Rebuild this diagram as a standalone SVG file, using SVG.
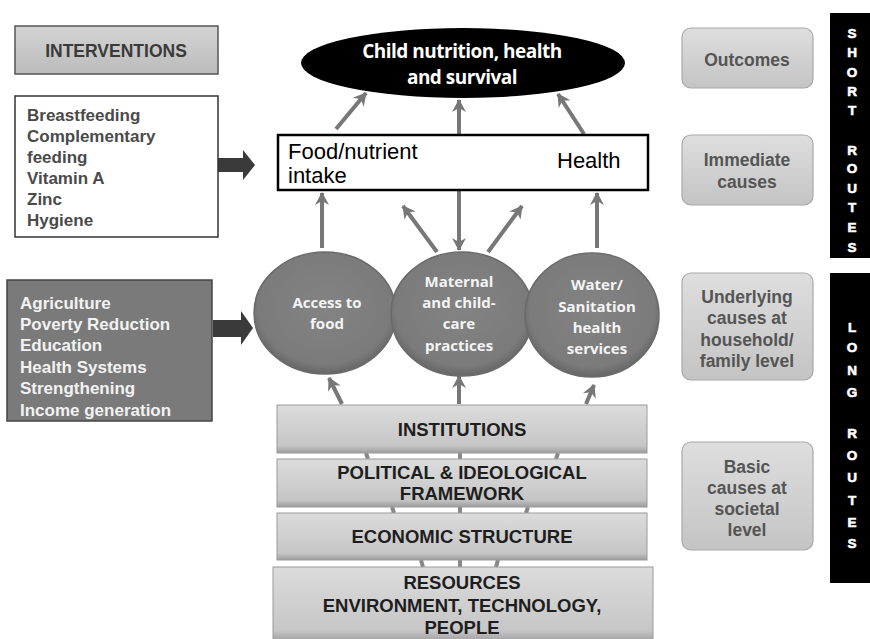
<svg xmlns="http://www.w3.org/2000/svg" width="870" height="639" viewBox="0 0 870 639">
<defs>
<style>
.b{font-family:"Liberation Sans",Arial,sans-serif;font-weight:bold}
.lst{font-size:17px;fill:#4a4a4a}
.lstw{font-size:17px;fill:#f2f2f2}
.rt{font-size:17.5px;fill:#555;text-anchor:middle}
.bar{fill:url(#barg);stroke:#9a9a9a;stroke-width:1}
.bt{font-size:18.5px;fill:#1e1e1e;text-anchor:middle}
.circ{fill:url(#cg);stroke:#6a6a6a;stroke-width:1.5}
.ct{font-family:"Open Sans","Liberation Sans",sans-serif;font-weight:bold;font-size:15px;fill:#f4f4f4;text-anchor:middle}
.rbox{fill:url(#rg);stroke:#a8a8a8;stroke-width:1.2}
.vt{font-family:"Liberation Sans",Arial,sans-serif;font-weight:900;font-size:13.5px;fill:#fff;stroke:#fff;stroke-width:0.6;text-anchor:middle}
.con{stroke:#777;stroke-width:4;fill:none}
.stub{stroke:#888;stroke-width:4;fill:none}
.et{font-family:"Open Sans","Liberation Sans",sans-serif;font-weight:bold;font-size:19px;fill:#fff;text-anchor:middle;letter-spacing:-0.5px}
.ft{font-family:"Liberation Sans",Arial,sans-serif;font-size:22px;fill:#000}
</style>
<linearGradient id="barg" x1="0" y1="0" x2="0" y2="1">
<stop offset="0" stop-color="#dcdcdc"/><stop offset="0.85" stop-color="#c6c6c6"/><stop offset="1" stop-color="#9c9c9c"/>
</linearGradient>
<linearGradient id="rg" x1="0" y1="0" x2="0" y2="1">
<stop offset="0" stop-color="#dedede"/><stop offset="1" stop-color="#c4c4c4"/>
</linearGradient>
<radialGradient id="cg" cx="0.5" cy="0.45" r="0.55">
<stop offset="0" stop-color="#838383"/><stop offset="0.85" stop-color="#7b7b7b"/><stop offset="1" stop-color="#666"/>
</radialGradient>
<linearGradient id="ig" x1="0" y1="0" x2="0" y2="1">
<stop offset="0" stop-color="#d4d4d4"/><stop offset="1" stop-color="#bcbcbc"/>
</linearGradient>
<marker id="ah" markerUnits="userSpaceOnUse" markerWidth="16" markerHeight="16" viewBox="0 0 16 16" refX="13" refY="8" orient="auto-start-reverse">
<path d="M1,1 L14,8 L1,15 L5,8 Z" fill="#777"/>
</marker>
</defs>
<rect width="870" height="639" fill="#fff"/>

<g id="connectors">
<line class="con" x1="336" y1="129" x2="366" y2="93" marker-end="url(#ah)"/>
<line class="con" x1="584" y1="134" x2="558" y2="94" marker-end="url(#ah)"/>
<line class="con" x1="459" y1="250" x2="459" y2="100" marker-start="url(#ah)" marker-end="url(#ah)"/>
<line class="con" x1="406" y1="168" x2="520" y2="168" marker-start="url(#ah)" marker-end="url(#ah)"/>
<line class="con" x1="322" y1="248" x2="322" y2="193" marker-end="url(#ah)"/>
<line class="con" x1="597" y1="248" x2="597" y2="193" marker-end="url(#ah)"/>
<line class="con" x1="437" y1="252" x2="403" y2="206" marker-end="url(#ah)"/>
<line class="con" x1="488" y1="252" x2="522" y2="206" marker-end="url(#ah)"/>
<line class="con" x1="342" y1="404" x2="329" y2="378" marker-end="url(#ah)"/>
<line class="con" x1="459" y1="404" x2="459" y2="376" marker-end="url(#ah)"/>
<line class="con" x1="586" y1="404" x2="594" y2="385" marker-end="url(#ah)"/>
<path class="stub" d="M366,453 L368,459 M460,453 L460,459 M558,453 L556,459 M392,507 L394,513 M460,507 L460,513 M528,507 L526,513 M421,560 L423,567 M460,560 L460,567 M498,560 L496,567"/>
<path d="M216,158 L243,158 L243,150 L255,165 L243,180 L243,172 L216,172 Z" fill="#3a3a3a"/>
<path d="M213,320 L241,320 L241,311 L253,328 L241,345 L241,337 L213,337 Z" fill="#3a3a3a"/>
</g>

<g id="interventions-title">
<rect x="15" y="26" width="203" height="48" fill="url(#ig)" stroke="#555" stroke-width="1.5"/>
<text class="b" x="116" y="57" font-size="17.5" fill="#3a3a3a" text-anchor="middle">INTERVENTIONS</text>
</g>

<g id="interventions-list">
<rect x="15" y="96" width="203" height="141" fill="#fff" stroke="#333" stroke-width="1.5"/>
<text class="b lst" x="27" y="121">Breastfeeding</text>
<text class="b lst" x="27" y="142">Complementary</text>
<text class="b lst" x="27" y="163">feeding</text>
<text class="b lst" x="27" y="184">Vitamin A</text>
<text class="b lst" x="27" y="205">Zinc</text>
<text class="b lst" x="27" y="226">Hygiene</text>
</g>

<g id="long-interventions">
<rect x="7" y="280" width="205" height="141" fill="#7a7a7a" stroke="#444" stroke-width="1.5"/>
<text class="b lstw" x="20" y="309">Agriculture</text>
<text class="b lstw" x="20" y="330">Poverty Reduction</text>
<text class="b lstw" x="20" y="351">Education</text>
<text class="b lstw" x="20" y="373">Health Systems</text>
<text class="b lstw" x="20" y="394">Strengthening</text>
<text class="b lstw" x="20" y="416">Income generation</text>
</g>

<g id="outcome">
<ellipse cx="463" cy="63" rx="162" ry="35" fill="#000"/>
<text class="et" x="462" y="58">Child nutrition, health</text>
<text class="et" x="462" y="84">and survival</text>
</g>

<g id="immediate">
<rect x="278" y="135" width="370" height="55" fill="#fff" stroke="#000" stroke-width="2.5"/>
<text class="ft" x="288" y="159">Food/nutrient</text>
<text class="ft" x="288" y="183">intake</text>
<text class="ft" x="557" y="168">Health</text>
</g>

<g id="access-food">
<ellipse class="circ" cx="325" cy="313" rx="71" ry="61"/>
<text class="ct" x="327" y="308">Access to</text>
<text class="ct" x="327" y="329">food</text>
</g>

<g id="maternal-care">
<ellipse class="circ" cx="462" cy="314" rx="71" ry="62"/>
<text class="ct" x="459" y="287">Maternal</text>
<text class="ct" x="459" y="308">and child-</text>
<text class="ct" x="459" y="329">care</text>
<text class="ct" x="459" y="351">practices</text>
</g>

<g id="water-sanitation">
<ellipse class="circ" cx="592" cy="315" rx="67" ry="62"/>
<text class="ct" x="597" y="290">Water/</text>
<text class="ct" x="597" y="312">Sanitation</text>
<text class="ct" x="597" y="333">health</text>
<text class="ct" x="597" y="354">services</text>
</g>

<g id="institutions">
<rect class="bar" x="277" y="405" width="370" height="48"/>
<text class="b bt" x="462" y="436">INSTITUTIONS</text>
</g>
<g id="political">
<rect class="bar" x="277" y="459" width="370" height="48"/>
<text class="b bt" x="462" y="479">POLITICAL &amp; IDEOLOGICAL</text>
<text class="b bt" x="462" y="500">FRAMEWORK</text>
</g>
<g id="economic">
<rect class="bar" x="277" y="513" width="370" height="47"/>
<text class="b bt" x="462" y="543">ECONOMIC STRUCTURE</text>
</g>
<g id="resources">
<rect class="bar" x="273" y="567" width="380" height="75"/>
<text class="b bt" x="462" y="589">RESOURCES</text>
<text class="b bt" x="462" y="612">ENVIRONMENT, TECHNOLOGY,</text>
<text class="b bt" x="462" y="634">PEOPLE</text>
</g>

<g id="label-outcomes">
<rect class="rbox" x="682" y="28" width="131" height="60" rx="9"/>
<text class="b rt" x="747" y="66" font-size="20">Outcomes</text>
</g>
<g id="label-immediate">
<rect class="rbox" x="682" y="135" width="131" height="70" rx="9"/>
<text class="b rt" x="747" y="166">Immediate</text>
<text class="b rt" x="747" y="188">causes</text>
</g>
<g id="label-underlying">
<rect class="rbox" x="682" y="273" width="131" height="107" rx="9"/>
<text class="b rt" x="747" y="303">Underlying</text>
<text class="b rt" x="747" y="324">causes at</text>
<text class="b rt" x="747" y="346">household/</text>
<text class="b rt" x="747" y="367">family level</text>
</g>
<g id="label-basic">
<rect class="rbox" x="682" y="442" width="131" height="108" rx="9"/>
<text class="b rt" x="747" y="473">Basic</text>
<text class="b rt" x="747" y="494">causes at</text>
<text class="b rt" x="747" y="515">societal</text>
<text class="b rt" x="747" y="536">level</text>
</g>

<g id="short-routes">
<rect x="830" y="13" width="40" height="245" fill="#000"/>
<text class="vt" x="852" y="38">S</text>
<text class="vt" x="852" y="57">H</text>
<text class="vt" x="852" y="77">O</text>
<text class="vt" x="852" y="96">R</text>
<text class="vt" x="852" y="115">T</text>
<text class="vt" x="852" y="155">R</text>
<text class="vt" x="852" y="173">O</text>
<text class="vt" x="852" y="193">U</text>
<text class="vt" x="852" y="212">T</text>
<text class="vt" x="852" y="232">E</text>
<text class="vt" x="852" y="252">S</text>
</g>
<g id="long-routes">
<rect x="830" y="273" width="40" height="310" fill="#000"/>
<text class="vt" x="852" y="332">L</text>
<text class="vt" x="852" y="352">O</text>
<text class="vt" x="852" y="375">N</text>
<text class="vt" x="852" y="397">G</text>
<text class="vt" x="852" y="438">R</text>
<text class="vt" x="852" y="460">O</text>
<text class="vt" x="852" y="482">U</text>
<text class="vt" x="852" y="505">T</text>
<text class="vt" x="852" y="527">E</text>
<text class="vt" x="852" y="548">S</text>
</g>
</svg>
